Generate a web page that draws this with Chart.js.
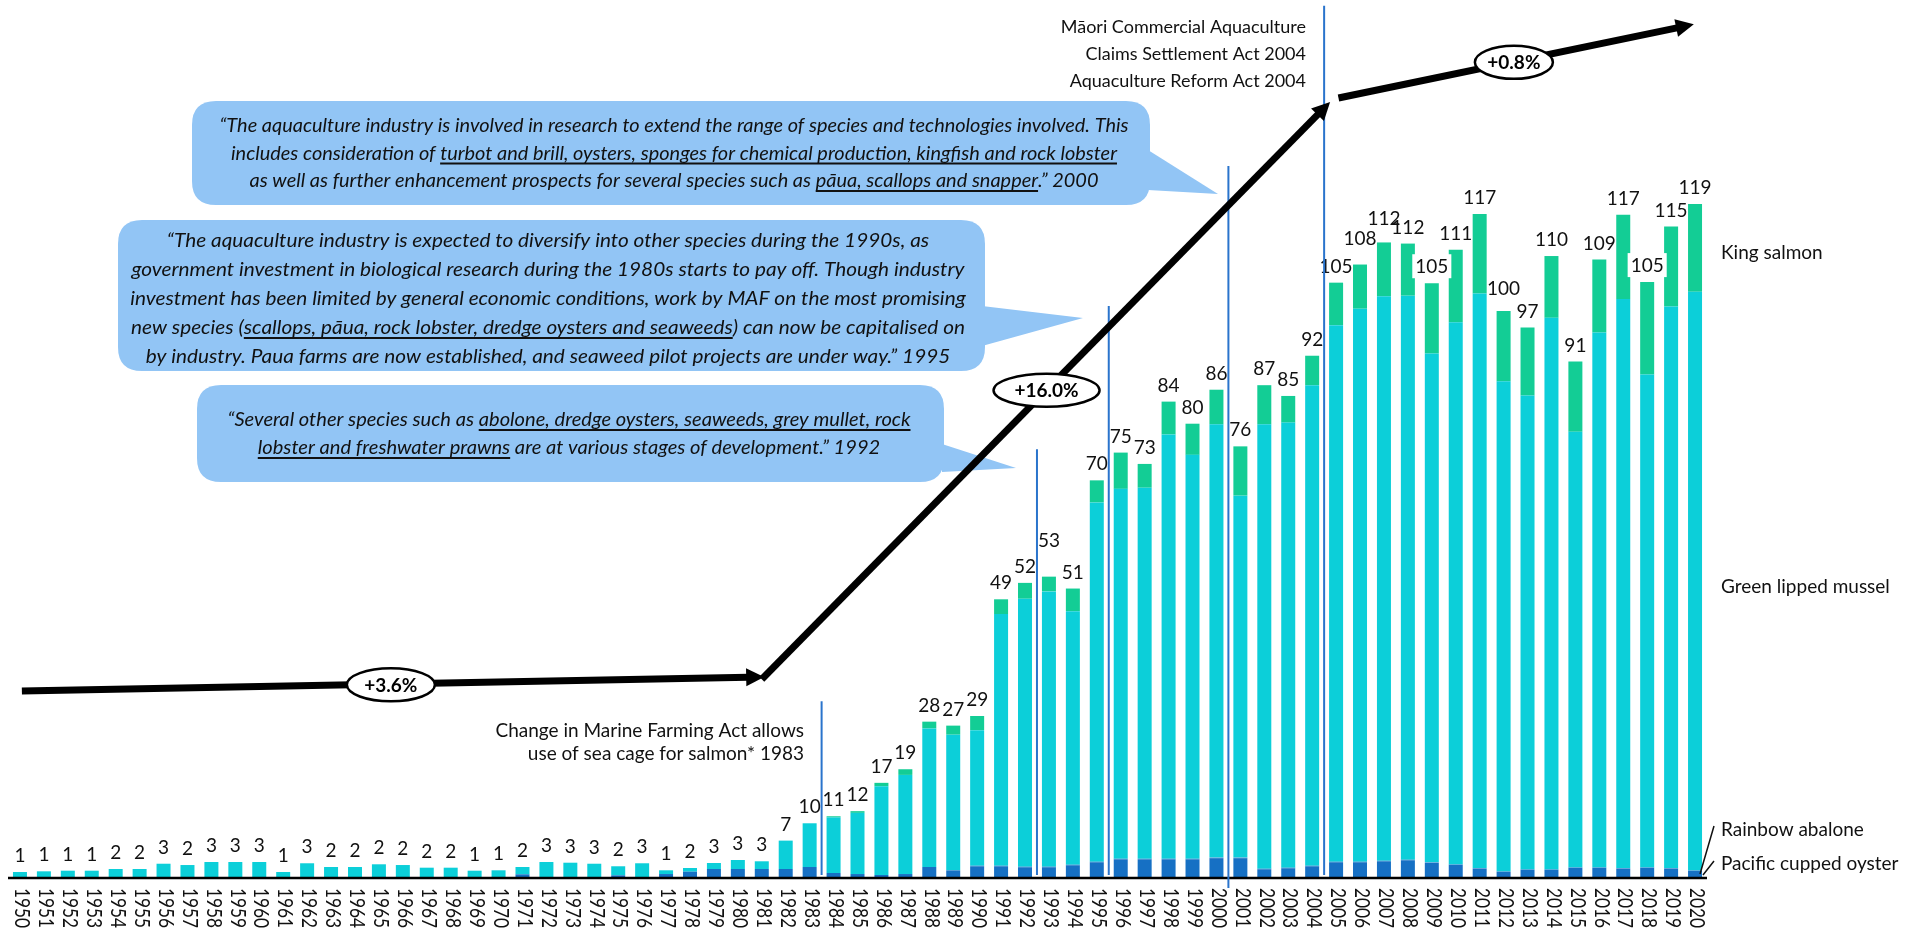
<!DOCTYPE html>
<html>
<head>
<meta charset="utf-8">
<script src="https://cdn.jsdelivr.net/npm/chart.js@4.4.1/dist/chart.umd.min.js"></script>
<style>
  html, body { margin: 0; padding: 0; background: #fff; }
  #wrap { width: 1914px; height: 932px; }
</style>
</head>
<body>
<div id="wrap"><canvas id="chart" width="1914" height="932"></canvas></div>
<script>
// Years (categories)
const years = [
  '1950','1951','1952','1953','1954','1955','1956','1957','1958','1959',
  '1960','1961','1962','1963','1964','1965','1966','1967','1968','1969',
  '1970','1971','1972','1973','1974','1975','1976','1977','1978','1979',
  '1980','1981','1982','1983','1984','1985','1986','1987','1988','1989',
  '1990','1991','1992','1993','1994','1995','1996','1997','1998','1999',
  '2000','2001','2002','2003','2004','2005','2006','2007','2008','2009',
  '2010','2011','2012','2013','2014','2015','2016','2017','2018','2019',
  '2020'
];

// Production by species (thousand tonnes)
const pacificOyster = [
  0,0,0,0,0,0,0,0,0,0,
  0,0,0,0,0,0,0,0,0,0,
  0,0.65,0.1,0.05,0.1,0.47,0.1,0.7,1.12,1.59,
  1.59,1.59,1.59,1.94,0.88,0.7,0.53,0.7,1.94,1.35,
  2.07,2.07,1.9,1.9,2.25,2.78,3.3,3.3,3.3,3.3,
  3.5,3.5,1.54,1.72,2.07,2.78,2.78,2.95,3.13,2.66,
  2.3,1.65,1.06,1.42,1.42,1.77,1.77,1.65,1.77,1.65,
  1.24
];
const rainbowAbalone = [
  0,0,0,0,0,0,0,0,0,0,
  0,0,0,0,0,0,0,0,0,0,
  0,0,0,0,0,0,0,0,0,0,
  0,0,0,0,0,0,0,0,0,0,
  0.1,0.1,0.1,0.1,0.1,0.1,0.1,0.1,0.1,0.1,
  0.1,0.1,0.1,0.1,0.1,0.1,0.1,0.1,0.1,0.1,
  0.1,0.1,0.1,0.1,0.1,0.1,0.1,0.1,0.1,0.1,
  0.1
];
const greenMussel = [
  1.06,1.18,1.29,1.29,1.59,1.59,2.52,2.29,2.82,2.82,
  2.82,1.06,2.6,1.94,1.94,2.42,2.29,1.82,1.82,1.29,
  1.36,1.29,2.72,2.65,2.42,1.6,2.5,0.66,0.65,1.06,
  1.59,1.36,5.01,7.72,9.82,10.8,15.67,17.5,24.46,23.95,
  23.93,44.43,47.3,48.6,44.75,63.42,65.3,65.5,74.9,71.3,
  76.5,63.9,78.46,78.58,84.83,94.72,97.62,99.65,99.57,89.84,
  95.7,101.45,86.54,83.68,97.38,76.93,94.43,100.45,87.03,99.15,
  102.16
];
const kingSalmon = [
  0,0,0,0,0,0,0,0,0,0,
  0,0,0,0,0,0,0,0,0,0,
  0,0,0,0,0,0,0,0,0,0,
  0,0,0,0,0.2,0.3,0.6,1.0,1.2,1.6,
  2.5,2.6,2.8,2.6,4.0,3.9,6.4,4.2,5.8,5.5,
  6.1,8.7,6.9,4.7,5.2,7.5,7.8,9.5,9.2,12.4,
  12.8,14.0,12.4,12.0,10.9,12.4,12.9,14.9,16.3,14.1,
  15.5
];

// Trend segments [fromIndex, fromValue, toIndex, toValue] and their growth labels
const trendSegments = [
  [0.08, 33.0, 31.1, 35.5],
  [31.0, 35.1, 54.75, 137.0],
  [55.1, 137.7, 69.95, 150.7]
];
const trendLabels = ['+3.6%', '+16.0%', '+0.8%'];
const trendLabelAt = [[15.5, 34.1], [42.9, 86.1], [62.43, 144.0]];

// Policy markers: year boundary (index) and top of the line (value)
const markerAt = [[33.5, 31.2], [42.5, 75.7], [45.5, 101], [50.5, 125.7], [54.5, 154]];

const COLORS = {
  oyster: '#1670c4',
  abalone: '#3d8fd6',
  mussel: '#0ccfd9',
  salmon: '#13cd95',
  marker: '#2a74cc',
  bubble: '#92c5f5'
};

const labelNudge = { '1993': -20, '2006': -10, '2007': -8, '2012': -6 };
const labelBoxed = ['2009', '2018'];

// Speech bubbles (annotation boxes, pixel layout)
const bubbles = [
  {
    box: [192, 101, 1150, 205], tail: [[1148, 150], [1148, 190], [1218, 194]],
    cx: 674, y0: 126, step: 27.5, fitLine: 0, fitWidth: 909,
    lines: [
      [['“The aquaculture industry is involved in research to extend the range of species and technologies involved. This', false]],
      [['includes consideration of ', false], ['turbot and brill, oysters, sponges for chemical production, kingfish and rock lobster', true]],
      [['as well as further enhancement prospects for several species such as ', false], ['pāua, scallops and snapper', true], ['.” 2000', false]]
    ]
  },
  {
    box: [118, 220, 985, 371], tail: [[982, 306], [982, 346], [1083, 318]],
    cx: 548, y0: 241, step: 29, fitLine: 3, fitWidth: 834,
    lines: [
      [['“The aquaculture industry is expected to diversify into other species during the 1990s, as', false]],
      [['government investment in biological research during the 1980s starts to pay off. Though industry', false]],
      [['investment has been limited by general economic conditions, work by MAF on the most promising', false]],
      [['new species (', false], ['scallops, pāua, rock lobster, dredge oysters and seaweeds', true], [') can now be capitalised on', false]],
      [['by industry. Paua farms are now established, and seaweed pilot projects are under way.” 1995', false]]
    ]
  },
  {
    box: [197, 385, 944, 482], tail: [[942, 444], [942, 472], [1016, 468]],
    cx: 569, y0: 420, step: 28, fitLine: 0, fitWidth: 683,
    lines: [
      [['“Several other species such as ', false], ['abolone, dredge oysters, seaweeds, grey mullet, rock', true]],
      [['lobster and freshwater prawns', true], [' are at various stages of development.” 1992', false]]
    ]
  }
];

function roundRectPath(ctx, x1, y1, x2, y2, r) {
  ctx.beginPath();
  ctx.moveTo(x1 + r, y1);
  ctx.lineTo(x2 - r, y1);
  ctx.quadraticCurveTo(x2, y1, x2, y1 + r);
  ctx.lineTo(x2, y2 - r);
  ctx.quadraticCurveTo(x2, y2, x2 - r, y2);
  ctx.lineTo(x1 + r, y2);
  ctx.quadraticCurveTo(x1, y2, x1, y2 - r);
  ctx.lineTo(x1, y1 + r);
  ctx.quadraticCurveTo(x1, y1, x1 + r, y1);
  ctx.closePath();
}

function lineWidthOf(ctx, segs) {
  return segs.reduce((s, seg) => s + ctx.measureText(seg[0]).width, 0);
}

function drawBubble(ctx, b) {
  ctx.save();
  ctx.fillStyle = COLORS.bubble;
  roundRectPath(ctx, b.box[0], b.box[1], b.box[2], b.box[3], 24);
  ctx.fill();
  ctx.beginPath();
  ctx.moveTo(b.tail[0][0], b.tail[0][1]);
  ctx.lineTo(b.tail[2][0], b.tail[2][1]);
  ctx.lineTo(b.tail[1][0], b.tail[1][1]);
  ctx.closePath();
  ctx.fill();

  ctx.font = 'italic 19px Lato';
  ctx.fillStyle = '#111';
  ctx.strokeStyle = '#111';
  ctx.textBaseline = 'alphabetic';
  ctx.textAlign = 'left';
  const sx = b.fitWidth / lineWidthOf(ctx, b.lines[b.fitLine]);
  b.lines.forEach((segs, i) => {
    const w = lineWidthOf(ctx, segs);
    const y = b.y0 + i * b.step + 6;
    ctx.save();
    ctx.translate(b.cx, y);
    ctx.scale(sx, 1);
    let xx = -w / 2;
    segs.forEach(([txt, under]) => {
      const tw = ctx.measureText(txt).width;
      ctx.fillText(txt, xx, 0);
      if (under) {
        ctx.lineWidth = 2;
        ctx.beginPath();
        ctx.moveTo(xx, 4);
        ctx.lineTo(xx + tw, 4);
        ctx.stroke();
      }
      xx += tw;
    });
    ctx.restore();
  });
  ctx.restore();
}

function drawArrow(ctx, x1, y1, x2, y2) {
  const ang = Math.atan2(y2 - y1, x2 - x1);
  const len = 18, half = 9;
  const bx = x2 - Math.cos(ang) * len, by = y2 - Math.sin(ang) * len;
  ctx.save();
  ctx.strokeStyle = '#000';
  ctx.fillStyle = '#000';
  ctx.lineWidth = 7;
  ctx.lineCap = 'butt';
  ctx.beginPath();
  ctx.moveTo(x1, y1);
  ctx.lineTo(bx + Math.cos(ang) * 2, by + Math.sin(ang) * 2);
  ctx.stroke();
  ctx.beginPath();
  ctx.moveTo(x2, y2);
  ctx.lineTo(bx + Math.sin(ang) * half, by - Math.cos(ang) * half);
  ctx.lineTo(bx - Math.sin(ang) * half, by + Math.cos(ang) * half);
  ctx.closePath();
  ctx.fill();
  ctx.restore();
}

function drawOval(ctx, cx, cy, w, h, text) {
  ctx.save();
  ctx.beginPath();
  ctx.ellipse(cx, cy, w / 2, h / 2, 0, 0, Math.PI * 2);
  ctx.fillStyle = '#fff';
  ctx.fill();
  ctx.lineWidth = 2.5;
  ctx.strokeStyle = '#000';
  ctx.stroke();
  ctx.fillStyle = '#000';
  ctx.font = 'bold 19px Lato';
  ctx.textAlign = 'center';
  ctx.textBaseline = 'middle';
  ctx.fillText(text, cx, cy + 1);
  ctx.restore();
}

const overlay = {
  id: 'overlay',
  afterDatasetsDraw(chart) {
    const { ctx, chartArea, scales } = chart;
    const x = scales.x, y = scales.y;
    const base = y.getPixelForValue(0);

    // Speech bubbles sit behind the trend arrows
    bubbles.forEach(b => drawBubble(ctx, b));

    // Baseline
    ctx.save();
    ctx.strokeStyle = '#000';
    ctx.lineWidth = 2.5;
    ctx.beginPath();
    ctx.moveTo(chartArea.left, base);
    ctx.lineTo(chartArea.right, base);
    ctx.stroke();

    // Year labels, rotated to read downwards
    ctx.fillStyle = '#111';
    ctx.font = '21px Lato';
    ctx.textAlign = 'left';
    ctx.textBaseline = 'middle';
    years.forEach((yr, i) => {
      ctx.save();
      ctx.translate(x.getPixelForValue(i) + 2, base + 10);
      ctx.rotate(Math.PI / 2);
      ctx.scale(0.82, 1);
      ctx.fillText(yr, 0, 0);
      ctx.restore();
    });

    // Totals above bars
    ctx.font = '19px Lato';
    ctx.textAlign = 'center';
    years.forEach((yr, i) => {
      const total = pacificOyster[i] + rainbowAbalone[i] + greenMussel[i] + kingSalmon[i];
      const txt = String(Math.round(total));
      const px = x.getPixelForValue(i);
      const py = y.getPixelForValue(total) - 17 + (labelNudge[yr] || 0);
      if (labelBoxed.includes(yr)) {
        const w = ctx.measureText(txt).width;
        ctx.fillStyle = '#fff';
        ctx.fillRect(px - w / 2 - 3, py - 12, w + 6, 24);
      }
      ctx.fillStyle = '#111';
      ctx.fillText(txt, px, py + 1);
    });

    // Policy marker lines
    ctx.strokeStyle = COLORS.marker;
    ctx.lineWidth = 2;
    markerAt.forEach(([idx, top], k) => {
      const px = x.getPixelForValue(idx);
      ctx.beginPath();
      ctx.moveTo(px, y.getPixelForValue(top));
      ctx.lineTo(px, k === 3 ? base + 10 : base - 3);
      ctx.stroke();
    });

    // Marker notes
    ctx.fillStyle = '#111';
    ctx.font = '19px Lato';
    ctx.textAlign = 'right';
    ctx.textBaseline = 'middle';
    ctx.fillText('Change in Marine Farming Act allows', 804, 731);
    ctx.fillText('use of sea cage for salmon* 1983', 804, 754);
    ctx.font = '18px Lato';
    ctx.fillText('Māori Commercial Aquaculture', 1306, 27);
    ctx.fillText('Claims Settlement Act 2004', 1306, 54);
    ctx.fillText('Aquaculture Reform Act 2004', 1306, 81);

    // Species labels on the right
    ctx.font = '19px Lato';
    ctx.textAlign = 'left';
    ctx.fillText('King salmon', 1721, 253);
    ctx.fillText('Green lipped mussel', 1721, 587);
    ctx.fillText('Rainbow abalone', 1721, 830);
    ctx.fillText('Pacific cupped oyster', 1721, 864);
    ctx.strokeStyle = '#111';
    ctx.lineWidth = 1.5;
    ctx.beginPath();
    ctx.moveTo(1714, 826);
    ctx.lineTo(1700, 874);
    ctx.moveTo(1714, 861);
    ctx.lineTo(1703, 875);
    ctx.stroke();
    ctx.restore();

    // Trend arrows with growth ovals
    trendSegments.forEach(([i1, v1, i2, v2]) => {
      drawArrow(ctx, x.getPixelForValue(i1), y.getPixelForValue(v1),
                x.getPixelForValue(i2), y.getPixelForValue(v2));
    });
    const ovalW = [88, 106, 78];
    trendLabels.forEach((t, k) => {
      drawOval(ctx, x.getPixelForValue(trendLabelAt[k][0]), y.getPixelForValue(trendLabelAt[k][1]), ovalW[k], 33, t);
    });
  }
};

new Chart(document.getElementById('chart'), {
  type: 'bar',
  data: {
    labels: years,
    datasets: [
      { label: 'Pacific cupped oyster', data: pacificOyster, backgroundColor: COLORS.oyster },
      { label: 'Rainbow abalone', data: rainbowAbalone, backgroundColor: COLORS.abalone },
      { label: 'Green lipped mussel', data: greenMussel, backgroundColor: COLORS.mussel },
      { label: 'King salmon', data: kingSalmon, backgroundColor: COLORS.salmon }
    ]
  },
  options: {
    responsive: false,
    animation: false,
    barPercentage: 0.585,
    categoryPercentage: 1.0,
    layout: { padding: { left: 8, right: 207, top: 0, bottom: 54 } },
    plugins: { legend: { display: false }, tooltip: { enabled: false } },
    scales: {
      x: { stacked: true, display: false },
      y: { stacked: true, display: false, min: 0, max: 155 }
    }
  },
  plugins: [overlay]
});
</script>
</body>
</html>
